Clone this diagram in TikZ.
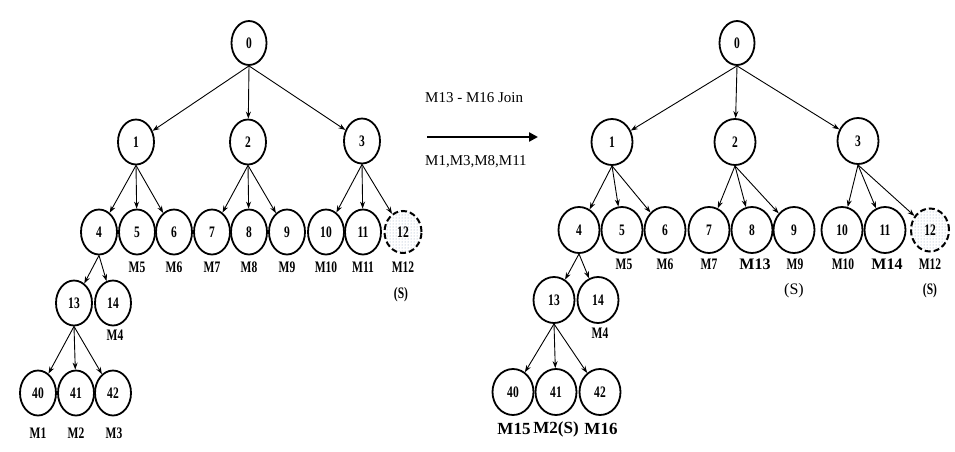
\documentclass[tikz,border=0pt]{standalone}
\usepackage{fontspec}
\setmainfont{Liberation Serif}
\newfontfamily\cond{Liberation Serif}[FakeStretch=0.72]
\usetikzlibrary{shapes.geometric,arrows.meta,patterns}
\definecolor{dotcol}{RGB}{140,160,185}
\tikzset{
  nd/.style={ellipse,draw,line width=1.8pt,inner sep=0pt,font=\cond\fontsize{16}{16}\selectfont\bfseries},
  ndl/.style={nd,minimum width=36pt,minimum height=45pt},
  ndr/.style={nd,minimum width=41pt,minimum height=46pt},
  ghost/.style={dash pattern=on 6pt off 3pt,line width=2pt,pattern=dots,pattern color=dotcol},
  lab/.style={inner sep=0pt,font=\cond\fontsize{16}{16}\selectfont\bfseries},
  labn/.style={inner sep=0pt,font=\fontsize{17}{17}\selectfont\bfseries},
  edge/.style={line width=0.9pt,-{Stealth[length=7pt,width=5pt]}},
  bigarrow/.style={line width=2.4pt,-{Triangle[length=9pt,width=9pt]}},
  note/.style={inner sep=0pt,font=\fontsize{15}{15}\selectfont}
}
\begin{document}
\begin{tikzpicture}[x=1pt,y=-1pt]
\useasboundingbox (0,0) rectangle (955,452);
% ---------- left tree ----------
\node[ndl,minimum width=35pt,minimum height=44pt] (a0) at (249,43) {0};
\node[ndl] (a1) at (136,142) {1};
\node[ndl] (a2) at (248,142) {2};
\node[ndl] (a3) at (362,141) {3};
\node[ndl] (a4) at (99,232) {4};
\node[ndl] (a5) at (137,232) {5};
\node[ndl] (a6) at (174,232) {6};
\node[ndl] (a7) at (212,232) {7};
\node[ndl] (a8) at (249,232) {8};
\node[ndl] (a9) at (287,232) {9};
\node[ndl] (a10) at (326,232) {10};
\node[ndl] (a11) at (363,232) {11};
\node[ndl,ghost,minimum width=37pt,minimum height=42pt] (a12) at (403,232) {12};
\node[ndl] (a13) at (74,303) {13};
\node[ndl] (a14) at (113,303) {14};
\node[ndl] (a40) at (38,393) {40};
\node[ndl] (a41) at (76,393) {41};
\node[ndl] (a42) at (113,393) {42};
\foreach \p/\c in {a0/a1,a0/a2,a0/a3,a1/a4,a1/a5,a1/a6,a2/a7,a2/a8,a2/a9,a3/a10,a3/a11,a3/a12,a4/a13,a4/a14,a13/a40,a13/a41,a13/a42}
  \draw[edge] (\p.south) -- (\c);
\node[lab] (la5) at (137,267) {M5};
\node[lab] (la6) at (174,267) {M6};
\node[lab] (la7) at (212,267) {M7};
\node[lab] (la8) at (249,267) {M8};
\node[lab] (la9) at (287,267) {M9};
\node[lab] (la10) at (326,267) {M10};
\node[lab] (la11) at (363,267) {M11};
\node[lab] (la12) at (403,267) {M12};
\node[lab] (la12s) at (401,295) {(S)};
\node[lab] (la14) at (115,335) {M4};
\node[lab] (la40) at (38,433) {M1};
\node[lab] (la41) at (76,433) {M2};
\node[lab] (la42) at (114,433) {M3};
% ---------- transition arrow ----------
\coordinate (arS) at (427,137);
\coordinate (arE) at (538,137);
\draw[bigarrow] (arS) -- (arE);
\node[note,anchor=west] (t1) at (425,98) {M13 - M16 Join};
\node[note,anchor=west] (t2) at (425,162) {M1,M3,M8,M11};
% ---------- right tree ----------
\node[ndr,minimum width=35pt,minimum height=44pt] (b0) at (737,43) {0};
\node[ndr] (b1) at (612,142) {1};
\node[ndr] (b2) at (735,142) {2};
\node[ndr] (b3) at (858,141) {3};
\node[ndr] (b4) at (579,230) {4};
\node[ndr] (b5) at (622,230) {5};
\node[ndr] (b6) at (665,230) {6};
\node[ndr] (b7) at (709,230) {7};
\node[ndr] (b8) at (752,230) {8};
\node[ndr] (b9) at (794,230) {9};
\node[ndr] (b10) at (842,230) {10};
\node[ndr] (b11) at (885,230) {11};
\node[ndr,ghost,minimum width=38pt,minimum height=43pt] (b12) at (930,230) {12};
\node[ndr] (b13) at (554,300) {13};
\node[ndr] (b14) at (598,300) {14};
\node[ndr] (b40) at (513,392) {40};
\node[ndr] (b41) at (556,392) {41};
\node[ndr] (b42) at (600,392) {42};
\foreach \p/\c in {b0/b1,b0/b2,b0/b3,b1/b4,b1/b5,b1/b6,b2/b7,b2/b8,b2/b9,b3/b10,b3/b11,b3/b12,b4/b13,b4/b14,b13/b40,b13/b41,b13/b42}
  \draw[edge] (\p.south) -- (\c);
\node[lab] (lb5) at (624,264) {M5};
\node[lab] (lb6) at (665,264) {M6};
\node[lab] (lb7) at (709,264) {M7};
\node[labn,font=\fontsize{16}{16}\selectfont\bfseries] (lb8) at (755,264) {M13};
\node[lab] (lb9) at (795,264) {M9};
\node[labn,font=\fontsize{16}{16}\selectfont] (lb9s) at (794,291) {(S)};
\node[lab] (lb10) at (843,264) {M10};
\node[labn,font=\fontsize{16}{16}\selectfont\bfseries] (lb11) at (887,264) {M14};
\node[lab] (lb12) at (930,264) {M12};
\node[lab] (lb12s) at (930,291) {(S)};
\node[lab] (lb14) at (600,333) {M4};
\node[labn] (lb40) at (514,429) {M15};
\node[labn] (lb41) at (556,429) {M2(S)};
\node[labn] (lb42) at (601,429) {M16};
\end{tikzpicture}
\end{document}
